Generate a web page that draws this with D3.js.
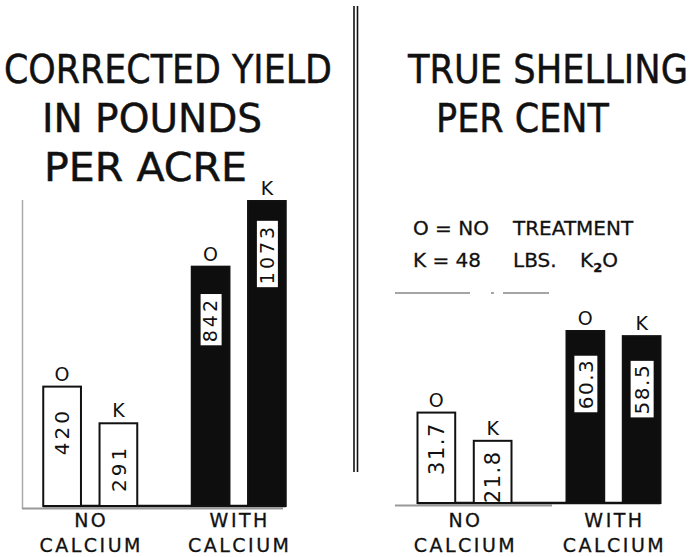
<!DOCTYPE html>
<html>
<head>
<meta charset="utf-8">
<script src="https://cdn.jsdelivr.net/npm/d3@7"></script>
<style>
  body { margin: 0; background: #fff; }
  text { font-family: "DejaVu Sans", sans-serif; fill: #111; }
</style>
</head>
<body>
<div id="chart"></div>
<script>
var width = 697;
var height = 557;

// data
var categories = ["NO CALCIUM", "WITH CALCIUM"];
var treatments = ["O", "K"];
var yieldValues = [[420, 291], [842, 1073]];      // corrected yield, lbs per acre
var shellingValues = [[31.7, 21.8], [60.3, 58.5]]; // true shelling, per cent
var legendLines = [["O = NO", "TREATMENT"], ["K = 48", "LBS.", "K"]];

var svg = d3.select("#chart")
  .append("svg")
  .attr("width", width)
  .attr("height", height);

// titles (drawn a bit smaller, then stretched upward to the lettering height)
function title(str, x, y, len) {
  svg.append("g")
    .attr("transform", "translate(" + x + "," + y + ") scale(1,1.17)")
    .append("text")
    .attr("textLength", len)
    .attr("lengthAdjust", "spacingAndGlyphs")
    .style("font-size", "33px")
    .style("stroke", "#111")
    .style("stroke-width", 0.4)
    .text(str);
}
title("CORRECTED YIELD", 4, 83, 328);
title("IN POUNDS", 42, 132, 220);
title("PER ACRE", 44, 181, 203);
title("TRUE SHELLING", 408, 83, 280);
title("PER CENT", 436, 132, 173);

// double divider
[354, 357.5].forEach(function(x) {
  svg.append("line")
    .attr("x1", x).attr("x2", x)
    .attr("y1", 6).attr("y2", 472)
    .style("stroke", "#111")
    .style("stroke-width", 1.6);
});

// legend
var lg = svg.append("g").style("stroke", "#111").style("stroke-width", 0.3);
var l1 = lg.append("text").attr("y", 235).style("font-size", "20px");
l1.append("tspan").attr("x", 413).text(legendLines[0][0]);
l1.append("tspan").attr("x", 513).text(legendLines[0][1]);
var l2 = lg.append("text").attr("y", 267).style("font-size", "20px");
l2.append("tspan").attr("x", 413).text(legendLines[1][0]);
l2.append("tspan").attr("x", 513).text(legendLines[1][1]);
l2.append("tspan").attr("x", 580).text(legendLines[1][2]);
l2.append("tspan").attr("dy", 5).style("font-size", "13px").style("font-weight", "bold").text("2");
l2.append("tspan").attr("dy", -5).text("O");

// broken rule under the legend
svg.append("line")
  .attr("x1", 395).attr("x2", 549)
  .attr("y1", 293).attr("y2", 293)
  .style("stroke", "#888")
  .style("stroke-width", 1.5)
  .style("stroke-dasharray", "75,21,3,9,46");

function panel(opts) {
  var g = svg.append("g");

  var y = d3.scaleLinear()
    .domain([0, opts.max])
    .range([opts.base, opts.top]);

  var x0 = d3.scaleBand()
    .domain(categories)
    .range(opts.xRange);

  var x1 = d3.scaleBand()
    .domain(treatments)
    .range([-47, 47])
    .paddingInner(0.33);

  var bars = [];
  categories.forEach(function(c, i) {
    treatments.forEach(function(t, j) {
      bars.push({ cat: c, t: t, value: opts.values[i][j], dark: i === 1 });
    });
  });

  function bx(d) { return x0(d.cat) + x0.bandwidth() / 2 + x1(d.t); }
  function cx(d) { return bx(d) + x1.bandwidth() / 2; }

  // gray axis lines
  if (opts.axisLeft) {
    g.append("line")
      .attr("x1", opts.axisLeft).attr("x2", opts.axisLeft)
      .attr("y1", 200).attr("y2", y(0) + 3)
      .style("stroke", "#aaa").style("stroke-width", 1.5);
  }
  g.append("line")
    .attr("x1", opts.rule[0]).attr("x2", opts.rule[1])
    .attr("y1", y(0) + 2.5).attr("y2", y(0) + 2.5)
    .style("stroke", "#999").style("stroke-width", 2);

  // black baseline joining the bars
  g.append("line")
    .attr("x1", bx(bars[0])).attr("x2", bx(bars[3]) + x1.bandwidth())
    .attr("y1", y(0)).attr("y2", y(0))
    .style("stroke", "#111").style("stroke-width", 2.5);

  g.selectAll(".bar")
    .data(bars)
    .enter()
    .append("rect")
    .attr("class", "bar")
    .attr("x", bx)
    .attr("y", function(d) { return y(d.value); })
    .attr("width", x1.bandwidth())
    .attr("height", function(d) { return y(0) - y(d.value); })
    .style("fill", function(d) { return d.dark ? "#0e0e0e" : "#fff"; })
    .style("stroke", "#111")
    .style("stroke-width", 2);

  // O / K above bars
  g.selectAll(".tl")
    .data(bars)
    .enter()
    .append("text")
    .attr("class", "tl")
    .attr("x", cx)
    .attr("y", function(d) { return y(d.value) - 6; })
    .attr("text-anchor", "middle")
    .style("font-size", "19px")
    .text(function(d) { return d.t; });

  // rotated value labels
  bars.forEach(function(d) {
    var off = d.dark ? opts.darkOff : opts.lightOff;
    var lab = g.append("g")
      .attr("transform", "translate(" + cx(d) + "," + (y(d.value) + off) + ") rotate(-90)");
    var txt = lab.append("text")
      .attr("text-anchor", "middle")
      .attr("dy", "0.36em")
      .style("font-size", (d.dark ? opts.darkSize : opts.lightSize) + "px")
      .style("letter-spacing", opts.spacing + "px")
      .text(d.value);
    if (d.dark) {
      var bb = txt.node().getBBox();
      lab.insert("rect", "text")
        .attr("x", bb.x - 3)
        .attr("y", -bb.height / 2 + 1)
        .attr("width", bb.width + 6)
        .attr("height", bb.height - 1)
        .style("fill", "#fff");
    }
  });

  // category labels
  categories.forEach(function(c) {
    var words = c.split(" ");
    var cxg = x0(c) + x0.bandwidth() / 2;
    words.forEach(function(w, k) {
      g.append("text")
        .attr("x", cxg + 1)
        .attr("y", 527 + k * 25)
        .attr("text-anchor", "middle")
        .style("font-size", "19px")
        .style("letter-spacing", "2.5px")
        .style("stroke", "#111")
        .style("stroke-width", 0.3)
        .text(w);
    });
  });
}

panel({
  values: yieldValues, max: 1073, base: 506, top: 201,
  xRange: [16, 313], axisLeft: 22.5, rule: [22, 283],
  lightOff: 45, darkOff: 53, lightSize: 20, darkSize: 19, spacing: 3
});

panel({
  values: shellingValues, max: 60.3, base: 503, top: 331,
  xRange: [390, 688], axisLeft: null, rule: [395, 552],
  lightOff: 36, darkOff: 53, lightSize: 21, darkSize: 20, spacing: 1.5
});
</script>
</body>
</html>
